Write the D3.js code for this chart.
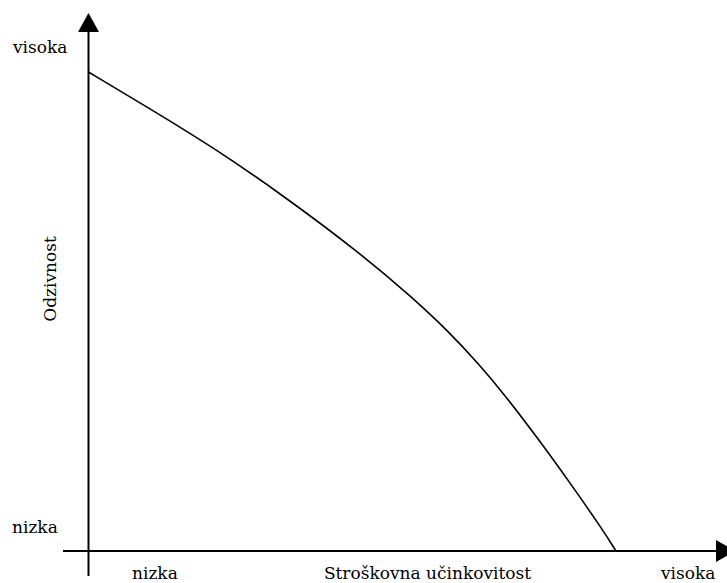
<!DOCTYPE html>
<html>
<head>
<meta charset="utf-8">
<script src="https://cdn.jsdelivr.net/npm/d3@7"></script>
<style>
  body { margin: 0; background: #fff; }
  svg text { font-family: "DejaVu Serif", serif; font-size: 17px; fill: #000; }
</style>
</head>
<body>
<div id="chart"></div>
<script>
// curve values, 0..100 on both axes
var costEff = [0, 11.1, 23.6, 36.3, 51.5, 61.5, 68.0, 74.2, 78.6, 85.0, 91.3, 97.5, 100];
var response = [100, 92.7, 84.3, 74.7, 62.2, 52.8, 46.1, 38.8, 33.0, 23.8, 14.2, 4.4, 0];

var xLabels = ["nizka", "visoka"];
var yLabels = ["nizka", "visoka"];
var xTitle = "Stroškovna učinkovitost";
var yTitle = "Odzivnost";

var svgWidth = 727;
var svgHeight = 583;

var svg = d3.select("#chart")
    .append("svg")
    .attr("width", svgWidth)
    .attr("height", svgHeight);

var x0 = 88.5, y0 = 551;

var xScale = d3.scaleLinear()
    .domain([0, 100])
    .range([x0, 616]);

var yScale = d3.scaleLinear()
    .domain([0, 100])
    .range([y0, 72]);

// axes with arrow heads
svg.append("line")
    .attr("x1", x0).attr("y1", 576)
    .attr("x2", x0).attr("y2", 30)
    .attr("stroke", "#000").attr("stroke-width", 2);
svg.append("path")
    .attr("d", `M${x0 - 10.5},32 L${x0},13 L${x0 + 10.5},32 Z`)
    .attr("fill", "#000");

svg.append("line")
    .attr("x1", 63).attr("y1", y0)
    .attr("x2", 718).attr("y2", y0)
    .attr("stroke", "#000").attr("stroke-width", 2);
svg.append("path")
    .attr("d", `M716,${y0 - 11} L735,${y0} L716,${y0 + 11} Z`)
    .attr("fill", "#000");

// curve
var line = d3.line()
    .x(d => xScale(d[0]))
    .y(d => yScale(d[1]))
    .curve(d3.curveBasis);

svg.append("path")
    .datum(d3.zip(costEff, response))
    .attr("d", line)
    .attr("fill", "none")
    .attr("stroke", "#000")
    .attr("stroke-width", 1.6);

// labels
function label(x, y, txt) {
    return svg.append("text")
        .attr("x", x).attr("y", y)
        .text(txt);
}
label(13, 53, yLabels[1]);
label(12, 533, yLabels[0]);
label(132, 579, xLabels[0]);
label(661, 579, xLabels[1]);

label(427.5, 579, xTitle).attr("text-anchor", "middle");

label(0, 0, yTitle)
    .attr("transform", "translate(56, 279) rotate(-90)")
    .attr("text-anchor", "middle");
</script>
</body>
</html>
